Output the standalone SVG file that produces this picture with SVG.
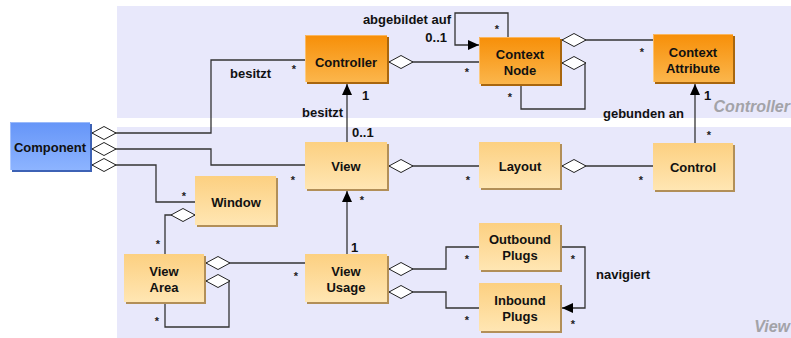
<svg xmlns="http://www.w3.org/2000/svg" width="791" height="338" viewBox="0 0 791 338">
<defs>
<linearGradient id="gOrange" x1="0" y1="0" x2="0" y2="1"><stop offset="0" stop-color="#f78f08"/><stop offset="1" stop-color="#fbb64c"/></linearGradient>
<linearGradient id="gLight" x1="0" y1="0" x2="0" y2="1"><stop offset="0" stop-color="#fcd081"/><stop offset="1" stop-color="#ffe6b3"/></linearGradient>
<linearGradient id="gBlue" x1="0" y1="0" x2="0" y2="1"><stop offset="0" stop-color="#6595f8"/><stop offset="1" stop-color="#8db4ff"/></linearGradient>
<marker id="dia" markerUnits="userSpaceOnUse" markerWidth="26" markerHeight="16" refX="1" refY="8" orient="auto" viewBox="0 0 26 16"><polygon points="1,8 13,1.5 25,8 13,14.5" fill="#fff" stroke="#222" stroke-width="1"/></marker>
<marker id="arr" markerUnits="userSpaceOnUse" markerWidth="12" markerHeight="12" refX="11" refY="6" orient="auto" viewBox="0 0 12 12"><polygon points="0,1 11,6 0,11" fill="#000"/></marker>
<style>
.o{fill:url(#gOrange)}
.l{fill:url(#gLight)}
.b{fill:url(#gBlue)}
.so{fill:#a8660e}
.sl{fill:#b28f58}
.sb{fill:#3d62b5}
.hl{fill:none;stroke:#fff;stroke-opacity:0.35;stroke-width:1}
.t{font-family:"Liberation Sans",Arial,sans-serif;font-weight:bold;font-size:13px;fill:#111;text-anchor:middle}
.lb{font-family:"Liberation Sans",Arial,sans-serif;font-weight:bold;font-size:13px;fill:#111}
.st{font-family:"Liberation Sans",Arial,sans-serif;font-weight:bold;font-size:11px;fill:#222;text-anchor:middle}
.pn{font-family:"Liberation Sans",Arial,sans-serif;font-weight:bold;font-style:italic;font-size:16px;fill:#a3a3a8;text-anchor:end}
.c{fill:none;stroke:#333;stroke-width:1.3}
</style>
</defs>
<rect width="791" height="338" fill="#fff"/>
<rect x="117" y="6" width="674" height="112" fill="#e8e8fb"/>
<rect x="117" y="127" width="674" height="211" fill="#e8e8fb"/>
<text class="pn" x="790" y="112">Controller</text>
<text class="pn" x="790" y="332">View</text>

<g id="connectors">
<path class="c" d="M92,133 H211 V60 H305" marker-start="url(#dia)"/>
<path class="c" d="M92,149 H211 V165 H305" marker-start="url(#dia)"/>
<path class="c" d="M92,165 H156 V202 H195" marker-start="url(#dia)"/>
<path class="c" d="M389,62 H479" marker-start="url(#dia)"/>
<path class="c" d="M508,37 V13 H455 V45 H479" marker-end="url(#arr)"/>
<path class="c" d="M562,63 H585 V109 H521 V86" marker-start="url(#dia)"/>
<path class="c" d="M562,40 H653" marker-start="url(#dia)"/>
<path class="c" d="M347,142 V84" marker-end="url(#arr)"/>
<path class="c" d="M695,143 V84" marker-end="url(#arr)"/>
<path class="c" d="M389,166 H479" marker-start="url(#dia)"/>
<path class="c" d="M562,166 H653" marker-start="url(#dia)"/>
<path class="c" d="M347,254 V191" marker-end="url(#arr)"/>
<path class="c" d="M195,215 H165 V254" marker-start="url(#dia)"/>
<path class="c" d="M206,263 H305" marker-start="url(#dia)"/>
<path class="c" d="M206,281 H229 V327 H165 V304" marker-start="url(#dia)"/>
<path class="c" d="M389,269 H446 V247 H479" marker-start="url(#dia)"/>
<path class="c" d="M389,292 H446 V308 H479" marker-start="url(#dia)"/>
<path class="c" d="M562,247 H585 V308 H562" marker-end="url(#arr)"/>
<text class="lb" x="230" y="78">besitzt</text>
<text class="st" x="294" y="73">*</text>
<text class="st" x="293" y="184">*</text>
<text class="st" x="184" y="200">*</text>
<text class="st" x="467" y="76">*</text>
<text class="lb" x="451" y="24" text-anchor="end">abgebildet auf</text>
<text class="lb" x="447" y="42" text-anchor="end">0..1</text>
<text class="st" x="497" y="33">*</text>
<text class="st" x="510" y="101">*</text>
<text class="st" x="642" y="56">*</text>
<text class="lb" x="362" y="100">1</text>
<text class="lb" x="302" y="117">besitzt</text>
<text class="lb" x="352" y="137">0..1</text>
<text class="lb" x="704" y="100">1</text>
<text class="lb" x="603" y="118">gebunden an</text>
<text class="st" x="709" y="139">*</text>
<text class="st" x="468" y="184">*</text>
<text class="st" x="641" y="184">*</text>
<text class="st" x="362" y="204">*</text>
<text class="lb" x="351" y="252">1</text>
<text class="st" x="158" y="248">*</text>
<text class="st" x="296" y="280">*</text>
<text class="st" x="157" y="325">*</text>
<text class="st" x="467" y="263">*</text>
<text class="st" x="467" y="324">*</text>
<text class="st" x="573" y="263">*</text>
<text class="st" x="573" y="328">*</text>
<text class="lb" x="596" y="279">navigiert</text>
</g>

<g id="component"><rect class="sb" x="12" y="124" width="80" height="48"/><rect class="b" x="10" y="122" width="80" height="48"/><path class="hl" d="M10.5,170 V122.5 H90"/><text class="t" x="50" y="152">Component</text></g>
<g id="controller"><rect class="so" x="307" y="37" width="82" height="47"/><rect class="o" x="305" y="35" width="82" height="47"/><path class="hl" d="M305.5,82 V35.5 H387"/><text class="t" x="346" y="67">Controller</text></g>
<g id="context-node"><rect class="so" x="481" y="39" width="81" height="47"/><rect class="o" x="479" y="37" width="81" height="47"/><path class="hl" d="M479.5,84 V37.5 H560"/><text class="t" x="520" y="59">Context</text><text class="t" x="520" y="75">Node</text></g>
<g id="context-attribute"><rect class="so" x="655" y="36" width="80" height="48"/><rect class="o" x="653" y="34" width="80" height="48"/><path class="hl" d="M653.5,82 V34.5 H733"/><text class="t" x="693" y="57">Context</text><text class="t" x="693" y="73">Attribute</text></g>
<g id="view"><rect class="sl" x="307" y="144" width="82" height="47"/><rect class="l" x="305" y="142" width="82" height="47"/><text class="t" x="346" y="171">View</text></g>
<g id="layout"><rect class="sl" x="481" y="144" width="81" height="46"/><rect class="l" x="479" y="142" width="81" height="46"/><text class="t" x="520" y="171">Layout</text></g>
<g id="control"><rect class="sl" x="655" y="145" width="80" height="47"/><rect class="l" x="653" y="143" width="80" height="47"/><text class="t" x="693" y="172">Control</text></g>
<g id="window"><rect class="sl" x="197" y="178" width="81" height="49"/><rect class="l" x="195" y="176" width="81" height="49"/><text class="t" x="236" y="207">Window</text></g>
<g id="view-area"><rect class="sl" x="126" y="256" width="80" height="48"/><rect class="l" x="124" y="254" width="80" height="48"/><text class="t" x="164" y="276">View</text><text class="t" x="164" y="292">Area</text></g>
<g id="view-usage"><rect class="sl" x="307" y="256" width="82" height="48"/><rect class="l" x="305" y="254" width="82" height="48"/><text class="t" x="346" y="276">View</text><text class="t" x="346" y="292">Usage</text></g>
<g id="outbound-plugs"><rect class="sl" x="481" y="225" width="81" height="47"/><rect class="l" x="479" y="223" width="81" height="47"/><text class="t" x="520" y="244">Outbound</text><text class="t" x="520" y="260">Plugs</text></g>
<g id="inbound-plugs"><rect class="sl" x="481" y="285" width="81" height="48"/><rect class="l" x="479" y="283" width="81" height="48"/><text class="t" x="520" y="305">Inbound</text><text class="t" x="520" y="321">Plugs</text></g>
</svg>
